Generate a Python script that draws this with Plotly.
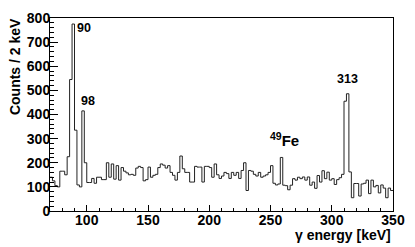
import plotly.graph_objects as go

# 2 keV bins from 70 to 350 keV
bin_low = 70
bin_width = 2
counts = [
    140, 125, 105, 100, 165, 165, 150, 225, 545, 775, 335, 108, 100, 415, 200, 118,
    118, 135, 115, 140, 140, 130, 130,
    200, 140, 195, 132, 188, 128, 180, 165,
    158, 150, 152, 148, 178, 185, 180, 125, 130, 182, 140, 148, 152, 180, 195,
    190, 178, 188, 160, 148, 128, 160, 228, 175, 160, 160, 120, 120, 185, 182, 182,
    120, 185, 185, 180, 140, 195, 150, 135, 145,
    160, 155, 135, 160, 148, 160, 135, 168, 200, 85, 168, 165, 152, 145, 160, 140,
    145, 150, 160, 188, 115, 108, 112, 222,
    107, 105, 88, 107, 134, 128, 140, 134, 141, 128, 141, 107, 120, 94, 147, 120,
    167, 134, 161, 128, 134, 110, 130, 138, 152,
    455, 486, 162, 55, 114, 114, 62, 112, 115, 128, 72, 128, 100, 106, 75, 108,
    95, 55, 95, 85,
]
peak_labels = ["90", "98", "313", "<sup>49</sup>Fe"]
peak_label_x = [90.0, 93.5, 312.5, 261.5]
peak_label_y = [757, 455, 546, 297]

edges = [bin_low + bin_width * i for i in range(len(counts) + 1)]
yvals = counts + [counts[-1]]

fig = go.Figure()
fig.add_trace(go.Scatter(
    x=edges, y=yvals, mode="lines", line=dict(shape="hv", color="#222222", width=1),
    showlegend=False, hoverinfo="skip",
))

font_b = "Liberation Sans"
anns = []
for i, (t, xv, yv) in enumerate(zip(peak_labels, peak_label_x, peak_label_y)):
    is_fe = "Fe" in t
    anns.append(dict(
        x=xv, y=yv, xref="x", yref="y", text=f"<b>{t}</b>", showarrow=False,
        xanchor="center" if i >= 2 else "left", yanchor="middle",
        font=dict(family=font_b, size=15 if is_fe else 12.5, color="black"),
    ))
anns.append(dict(
    x=-36 / 348, y=1.01, xref="paper", yref="paper", text="<b>Counts / 2 keV</b>",
    textangle=-90, showarrow=False, xanchor="center", yanchor="top",
    font=dict(family=font_b, size=14, color="black"),
))
anns.append(dict(
    x=1.0, y=-0.125, xref="paper", yref="paper", text="<b>γ energy [keV]</b>",
    showarrow=False, xanchor="right", yanchor="middle",
    font=dict(family=font_b, size=14, color="black"),
))

fig.update_layout(
    width=415, height=247,
    margin=dict(l=50, r=17, t=10, b=36),
    paper_bgcolor="white", plot_bgcolor="white",
    annotations=anns,
    xaxis=dict(
        range=[70, 350], tick0=100, dtick=50, ticks="inside", ticklen=6, tickwidth=1,
        tickcolor="black", showline=True, mirror=True, linecolor="black", linewidth=1,
        showgrid=False, zeroline=False, ticklabelstandoff=-4,
        tickfont=dict(family=font_b, size=14, color="black", weight="bold"),
        minor=dict(ticks="inside", ticklen=3, dtick=10, tick0=0, tickcolor="black", showgrid=False),
    ),
    yaxis=dict(
        range=[0, 800], dtick=100, ticks="inside", ticklen=8, tickwidth=1,
        tickcolor="black", showline=True, mirror=True, linecolor="black", linewidth=1,
        showgrid=False, zeroline=False, ticklabelstandoff=-4,
        tickfont=dict(family=font_b, size=14, color="black", weight="bold"),
        minor=dict(ticks="inside", ticklen=4, dtick=20, tickcolor="black", showgrid=False),
    ),
)

fig.write_html(
    "out.html",
    config={"displayModeBar": False},
    post_script="document.body.style.margin='0';document.body.style.padding='0';",
)
